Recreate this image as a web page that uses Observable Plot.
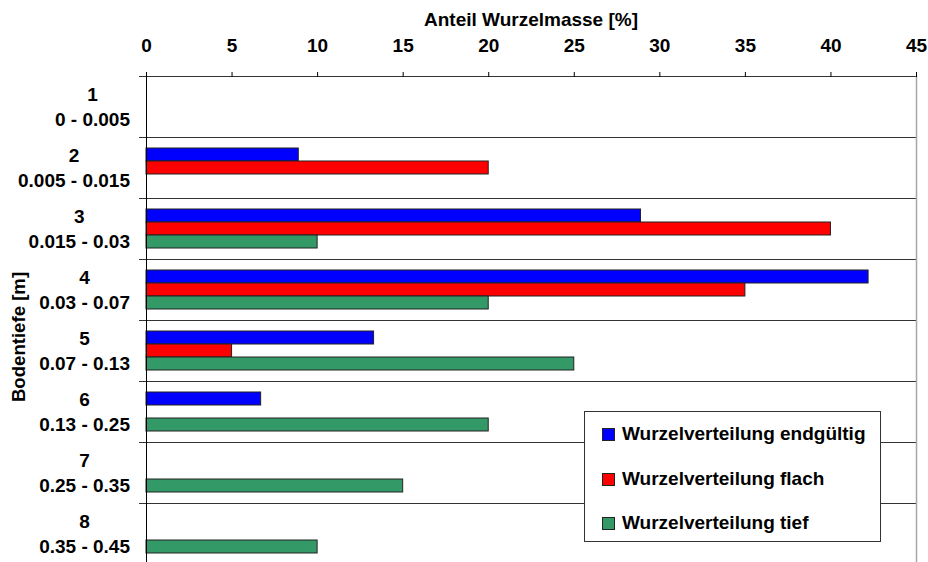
<!DOCTYPE html>
<html>
<head>
<meta charset="utf-8">
<script src="https://cdn.jsdelivr.net/npm/d3@7"></script>
<script src="https://cdn.jsdelivr.net/npm/@observablehq/plot@0.6"></script>
<style>
  html, body { margin: 0; padding: 0; background: #fff; overflow: hidden; }
  #wrap { position: relative; width: 928px; height: 562px; overflow: hidden;
          font-family: "Liberation Sans", Arial, sans-serif; font-weight: bold; color: #000; }
  #title { position: absolute; left: 146px; width: 770px; top: 10px; text-align: center;
           font-size: 19px; line-height: 19px; white-space: nowrap; }
  #ytitle { position: absolute; left: -81px; top: 327px; width: 200px; height: 20px; line-height: 20px;
            text-align: center; font-size: 18.6px; transform: rotate(-90deg); white-space: nowrap; }
  #legend { position: absolute; left: 584px; top: 411px; width: 297px; height: 131px;
            background: #fff; border: 1px solid #333; box-sizing: border-box; }
  .item { position: absolute; left: 17px; height: 20px; display: flex; align-items: center;
          font-size: 19px; white-space: nowrap; }
  .sw { width: 11px; height: 11px; border: 1px solid #222; margin-right: 7px; }
</style>
</head>
<body>
<div id="wrap">
  <div id="chart"></div>
  <div id="title"></div>
  <div id="ytitle"></div>
  <div id="legend"></div>
</div>
<script>
// ---- data ----
const rowIds = ["1", "2", "3", "4", "5", "6", "7", "8"];
const rowRanges = ["0 - 0.005", "0.005 - 0.015", "0.015 - 0.03", "0.03 - 0.07",
                   "0.07 - 0.13", "0.13 - 0.25", "0.25 - 0.35", "0.35 - 0.45"];
const seriesNames = ["Wurzelverteilung endgültig", "Wurzelverteilung flach", "Wurzelverteilung tief"];
const seriesColors = ["#0000ff", "#ff0000", "#339966"];
const endgueltig = [null, 8.9, 28.9, 42.2, 13.3, 6.7, null, null];
const flach      = [null, 20, 40, 35, 5, null, null, null];
const tief       = [null, null, 10, 20, 25, 20, 15, 10];
const xTicks = [0, 5, 10, 15, 20, 25, 30, 35, 40, 45];
const xTitle = "Anteil Wurzelmasse [%]";
const yTitle = "Bodentiefe [m]";

// ---- table ----
const seriesValues = [endgueltig, flach, tief];
const data = [];
rowIds.forEach((id, i) => {
  seriesNames.forEach((s, j) => {
    const v = seriesValues[j][i];
    if (v != null) data.push({row: id, series: s, value: v});
  });
});
const rows = rowIds.map((id, i) => ({id, range: rowRanges[i]}));

// measure second line widths to centre the first line over it
const ctx = document.createElement("canvas").getContext("2d");
ctx.font = "bold 19px 'Liberation Sans'";
const labelRight = -16.5;

const numberMarks = rows.map(r => Plot.text([r], {
  fy: "id", text: "id", frameAnchor: "left", textAnchor: "middle",
  dx: labelRight - ctx.measureText(r.range).width / 2, dy: -12.2
}));

const chart = Plot.plot({
  width: 928,
  height: 567,
  marginLeft: 146,
  marginRight: 12,
  marginTop: 73,
  marginBottom: 0,
  style: {fontFamily: "'Liberation Sans', Arial, sans-serif", fontWeight: "bold", fontSize: "19px", background: "#fff", overflow: "visible"},
  x: {domain: [0, 45], axis: null},
  y: {domain: seriesNames, paddingInner: 0, paddingOuter: 0.81, axis: null},
  fy: {domain: rowIds, padding: 0, axis: null},
  color: {domain: seriesNames, range: seriesColors},
  marks: [
    Plot.frame({anchor: "top", stroke: "#333", insetLeft: -7}),
    Plot.barX(data, {fy: "row", y: "series", x: "value", fill: "series", stroke: "#222", strokeWidth: 1}),
    Plot.ruleX([0], {stroke: "#000"}),
    Plot.ruleX([45], {stroke: "#a6a6a6", strokeWidth: 1.5}),
    Plot.axisX({anchor: "top", ticks: xTicks, tickSize: 5, tickPadding: 20, label: null, stroke: "#000"}),
    Plot.text(rows, {fy: "id", text: "range", frameAnchor: "left", textAnchor: "end", dx: labelRight, dy: 12.6}),
    ...numberMarks
  ]
});
document.getElementById("chart").appendChild(chart);

document.getElementById("title").textContent = xTitle;
document.getElementById("ytitle").textContent = yTitle;
const legend = document.getElementById("legend");
const legendTops = [12, 57, 101];
seriesNames.forEach((s, j) => {
  const it = document.createElement("div");
  it.className = "item";
  it.style.top = legendTops[j] + "px";
  const sw = document.createElement("div");
  sw.className = "sw";
  sw.style.background = seriesColors[j];
  const tx = document.createElement("span");
  tx.textContent = s;
  it.appendChild(sw);
  it.appendChild(tx);
  legend.appendChild(it);
});
</script>
</body>
</html>
